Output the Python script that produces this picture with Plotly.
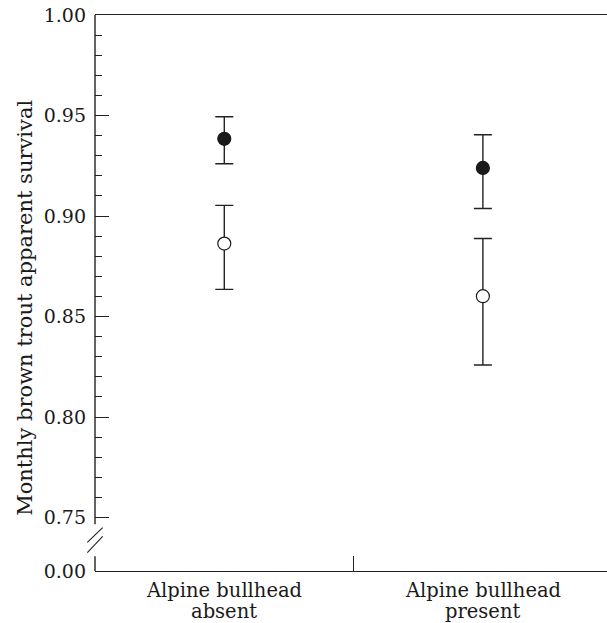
import plotly.graph_objects as go

categories = [("Alpine bullhead", "absent"), ("Alpine bullhead", "present")]
cat_pos = [0.5, 1.5]

filled_mean = [0.9384, 0.9239]
filled_upper = [0.9494, 0.9404]
filled_lower = [0.9260, 0.9037]

open_mean = [0.8863, 0.8601]
open_upper = [0.9053, 0.8888]
open_lower = [0.8635, 0.8259]

y_major = [0.75, 0.80, 0.85, 0.90, 0.95, 1.00]
y_minor = [round(0.75 + 0.01 * i, 2) for i in range(26)]
y_bottom = 0.7234
y_bottom_label = "0.00"
y_title = "Monthly brown trout apparent survival"

FONT = "DejaVu Serif"
LINE = "#222222"
TXT = "#1a1a1a"

def errs(mean, up, lo):
    return ([u - m for u, m in zip(up, mean)], [m - l for m, l in zip(mean, lo)])

fig = go.Figure()
for mean, up, lo, fill in [(open_mean, open_upper, open_lower, "white"),
                            (filled_mean, filled_upper, filled_lower, "#1a1a1a")]:
    ep, em = errs(mean, up, lo)
    fig.add_trace(go.Scatter(
        x=cat_pos, y=mean, mode="markers",
        marker=dict(size=13, color=fill, line=dict(color="#1a1a1a", width=1.2)),
        error_y=dict(type="data", symmetric=False, array=ep, arrayminus=em,
                     color=LINE, thickness=1.4, width=9),
        showlegend=False, cliponaxis=False,
    ))

# axis line with break
shapes = [
    dict(type="line", xref="paper", yref="y", x0=0, x1=0, y0=0.7466, y1=1.0,
         line=dict(color=LINE, width=1.4)),
    dict(type="line", xref="paper", yref="y", x0=0, x1=0, y0=y_bottom, y1=0.7307,
         line=dict(color=LINE, width=1.4)),
    dict(type="line", xref="paper", yref="y", x0=-0.015, x1=0.015, y0=0.7376, y1=0.7450,
         line=dict(color=LINE, width=1.1)),
    dict(type="line", xref="paper", yref="y", x0=-0.015, x1=0.015, y0=0.7326, y1=0.7406,
         line=dict(color=LINE, width=1.1)),
]

annotations = []
for xp, (l1, l2) in zip(cat_pos, categories):
    annotations.append(dict(x=xp, xref="x", y=0, yref="paper", text=l1, showarrow=False,
                            yanchor="middle", yshift=-19, font=dict(size=19.5, family=FONT, color=TXT)))
    annotations.append(dict(x=xp, xref="x", y=0, yref="paper", text=l2, showarrow=False,
                            yanchor="middle", yshift=-40, font=dict(size=19.5, family=FONT, color=TXT)))
annotations.append(dict(x=-0.137, xref="paper", y=0.473, yref="paper", text=y_title,
                        showarrow=False, textangle=-90, xanchor="center", yanchor="middle",
                        font=dict(size=21, family=FONT, color=TXT)))

fig.update_layout(
    width=607, height=623,
    margin=dict(l=95, r=0, t=15, b=52),
    paper_bgcolor="white", plot_bgcolor="white",
    font=dict(family=FONT, color=TXT),
    shapes=shapes,
    annotations=annotations,
    xaxis=dict(
        range=[0, 1.98], showgrid=False, zeroline=False, automargin=False,
        showline=True, linecolor=LINE, linewidth=1.4, mirror=True,
        tickmode="array", tickvals=cat_pos, ticktext=["", ""], ticks="",
        minor=dict(tickmode="array", tickvals=[1.0], ticks="inside", ticklen=15,
                   tickcolor=LINE, tickwidth=1.2, showgrid=False),
    ),
    yaxis=dict(
        range=[y_bottom, 1.0], showgrid=False, zeroline=False, showline=False,
        automargin=False, ticklabeloverflow="allow",
        tickmode="array", tickvals=[y_bottom] + y_major,
        ticktext=[y_bottom_label] + [f"{v:.2f}" for v in y_major],
        ticks="inside", ticklen=14, tickwidth=1.2, tickcolor=LINE,
        ticklabelstandoff=8,
        tickfont=dict(size=19, family=FONT, color=TXT),
        minor=dict(tickmode="array", tickvals=y_minor, ticks="inside", ticklen=7,
                   tickcolor=LINE, tickwidth=1.2, showgrid=False),
    ),
)

# remove the default page margin so the figure fills the window exactly
fig.write_html("out.html",
               config={"displayModeBar": False},
               post_script="document.body.style.margin='0';document.body.style.overflow='hidden';")
